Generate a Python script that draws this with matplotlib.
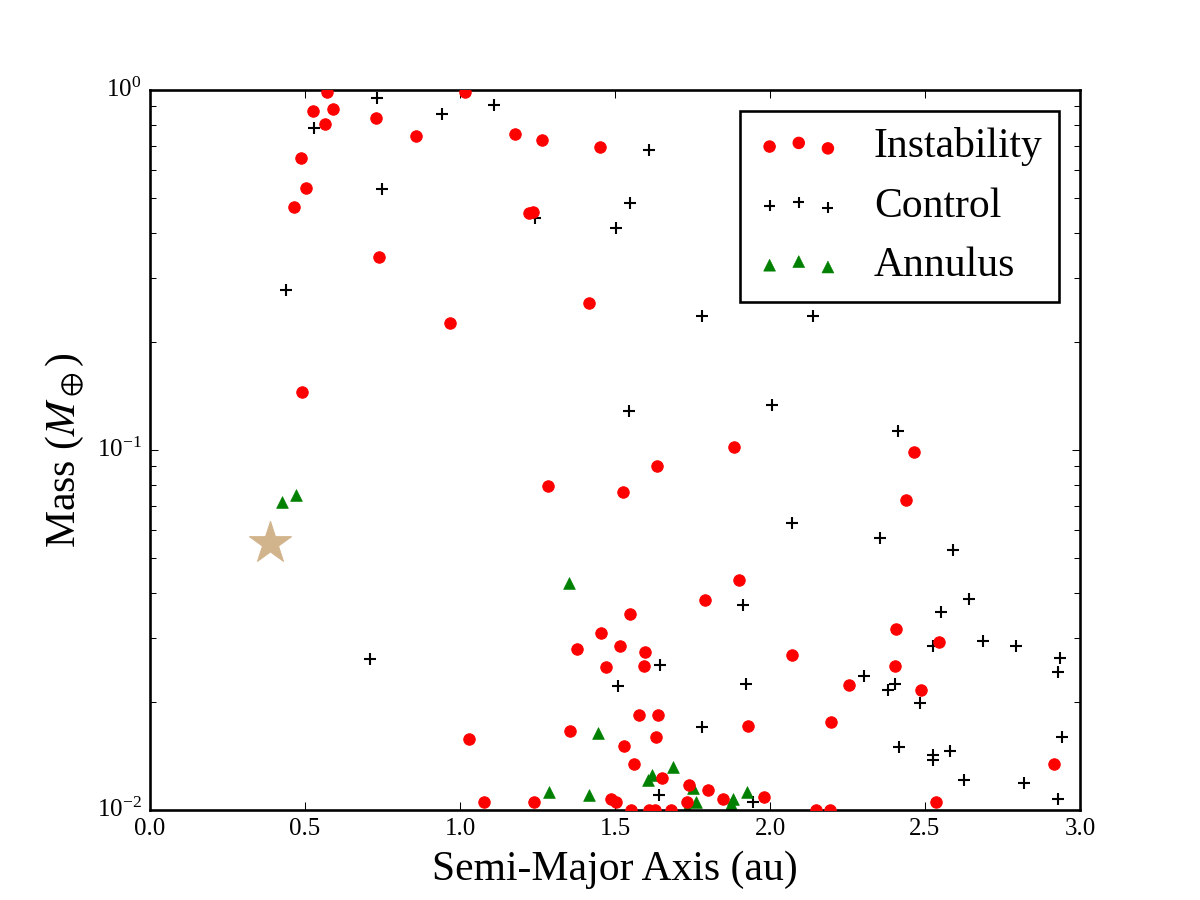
import matplotlib
matplotlib.use("Agg")
import matplotlib.pyplot as plt

plt.style.use("classic")
plt.rcParams["font.family"] = ["Liberation Serif", "DejaVu Serif"]
plt.rcParams["mathtext.fontset"] = "stix"
plt.rcParams["font.size"] = 12
plt.rcParams["axes.unicode_minus"] = False

# Instability runs: semi-major axis (au), mass (Earth masses)
inst_a = [0.571, 0.526, 0.590, 0.565, 0.729, 0.487, 0.503, 0.465, 0.739, 0.490,
          1.016, 0.858, 1.177, 1.265, 1.452, 1.223, 1.236, 1.415, 0.968, 1.884,
          2.466, 2.438, 1.635, 1.284, 1.525, 1.901, 1.791, 1.547, 1.454, 1.378,
          1.515, 1.597, 1.470, 1.592, 1.576, 1.640, 1.930, 1.030, 1.355, 1.633,
          1.529, 1.562, 1.651, 1.739, 1.801, 1.847, 1.981, 1.077, 1.239, 1.488,
          1.504, 1.731, 1.553, 1.610, 1.629, 1.682, 2.917, 2.070, 2.403, 2.407,
          2.544, 2.255, 2.487, 2.197, 2.535, 2.149, 2.195]
inst_m = [0.987, 0.874, 0.886, 0.804, 0.836, 0.647, 0.536, 0.473, 0.344, 0.145,
          0.987, 0.745, 0.754, 0.726, 0.693, 0.454, 0.458, 0.256, 0.226, 0.102,
          0.0986, 0.0725, 0.0903, 0.0794, 0.0763, 0.0435, 0.0382, 0.0351, 0.0311, 0.0280,
          0.0286, 0.0275, 0.0250, 0.0251, 0.0184, 0.0184, 0.0171, 0.0157, 0.0166, 0.0160,
          0.0151, 0.0134, 0.0123, 0.0117, 0.0114, 0.0107, 0.0109, 0.0105, 0.0105, 0.0107,
          0.0105, 0.0105, 0.0100, 0.0100, 0.0100, 0.0100, 0.0134, 0.0270, 0.0251, 0.0318,
          0.0292, 0.0222, 0.0215, 0.0176, 0.0105, 0.0100, 0.0100]

# Control runs
ctrl_a = [0.731, 0.943, 0.529, 0.749, 0.438, 1.109, 1.611, 1.242, 1.549, 1.502,
          1.781, 2.140, 1.546, 2.007, 2.414, 2.072, 2.355, 2.589, 0.709, 1.912,
          1.645, 1.511, 1.924, 1.781, 1.642, 1.945, 2.643, 2.551, 2.527, 2.686,
          2.794, 2.934, 2.930, 2.302, 2.404, 2.381, 2.485, 2.942, 2.415, 2.581,
          2.527, 2.525, 2.627, 2.819, 2.929]
ctrl_m = [0.952, 0.856, 0.786, 0.531, 0.278, 0.909, 0.681, 0.442, 0.486, 0.415,
          0.235, 0.235, 0.128, 0.133, 0.113, 0.0627, 0.0571, 0.0528, 0.0262, 0.0370,
          0.0252, 0.0221, 0.0224, 0.0170, 0.0110, 0.0105, 0.0385, 0.0354, 0.0285, 0.0294,
          0.0285, 0.0265, 0.0242, 0.0235, 0.0224, 0.0215, 0.0198, 0.0159, 0.0150, 0.0146,
          0.0142, 0.0138, 0.0121, 0.0119, 0.0107]

# Annulus runs
ann_a = [0.427, 0.471, 1.350, 1.444, 1.687, 1.618, 1.606, 1.288, 1.415, 1.927,
         1.881, 1.875, 1.762, 1.731, 1.750]
ann_m = [0.0716, 0.0749, 0.0427, 0.0164, 0.0132, 0.0125, 0.0121, 0.0112, 0.0110, 0.0112,
         0.0107, 0.0104, 0.0105, 0.0101, 0.0115]

# Reference body (star)
star_a = [0.387]
star_m = [0.0553]

fig = plt.figure(figsize=(8, 6), dpi=150)
ax = fig.add_axes([0.125, 0.1, 0.775, 0.8])

h_ctrl = ax.scatter(ctrl_a, ctrl_m, marker="+", s=28, c="k", linewidths=1.0, zorder=2)
h_ann = ax.scatter(ann_a, ann_m, marker="^", s=32, c="g", edgecolors="g", linewidths=0.3, zorder=2)
h_inst = ax.scatter(inst_a, inst_m, marker="o", s=30, c="r", edgecolors="r", linewidths=0.5, zorder=3)
ax.scatter(star_a, star_m, marker="*", s=450, c="tan", edgecolors="tan", linewidths=0.5, zorder=3)

ax.set_yscale("log")
ax.set_xlim(0.0, 3.0)
ax.set_ylim(0.01, 1.0)
ax.set_xticks([0.0, 0.5, 1.0, 1.5, 2.0, 2.5, 3.0])
ax.tick_params(which="major", length=4, direction="in")
ax.tick_params(which="minor", length=3, direction="in")
for sp in ax.spines.values():
    sp.set_linewidth(1.25)

ax.set_xlabel("Semi-Major Axis (au)", fontsize=20)
ax.set_ylabel(r"Mass ($M_\oplus$)", fontsize=20)

leg = ax.legend([h_inst, h_ctrl, h_ann], ["Instability", "Control", "Annulus"],
                loc="upper right", fontsize=20, scatterpoints=3, fancybox=False)
leg.get_frame().set_linewidth(1.25)
leg.get_frame().set_edgecolor("k")

fig.savefig("out.png", dpi=150)
